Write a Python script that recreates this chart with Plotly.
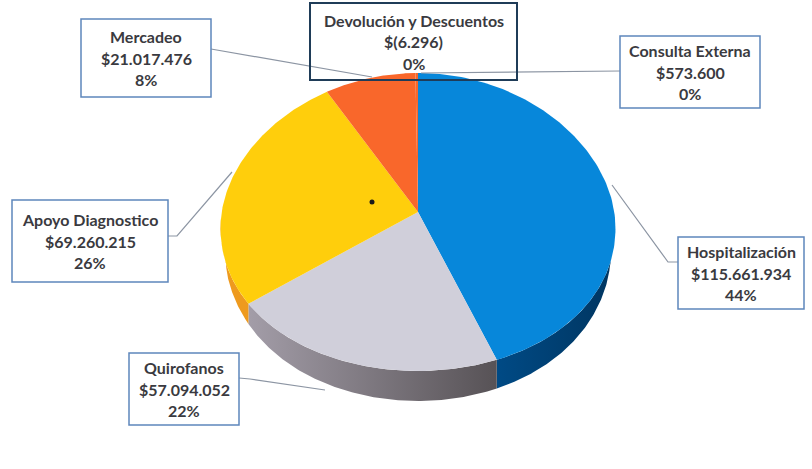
import numpy as np
import plotly.graph_objects as go

categories = ["Hospitalización", "Quirofanos", "Apoyo Diagnostico", "Mercadeo",
              "Devolución y Descuentos", "Consulta Externa"]
values = [115661934, 57094052, 69260215, 21017476, -6296, 573600]
amount_labels = ["$115.661.934", "$57.094.052", "$69.260.215", "$21.017.476", "$(6.296)", "$573.600"]
percent_labels = ["44%", "22%", "26%", "8%", "0%", "0%"]
top_colors = ["#0787DA", "#D0CFDA", "#FFCE0C", "#F9672B", "#F9672B", "#F9672B"]
side_left = ["#004A85", "#A39DA8", "#EE9A1E", "#C04A18", "#999999", "#2F5F90"]
side_right = ["#003560", "#575256", "#EE9A1E", "#C04A18", "#999999", "#2F5F90"]

# geometry of the tilted disc, in pixel-like axis units
CX, CY, RX, RY_BACK, RY_FRONT, DEPTH = 418, 218, 197, 145, 153, 30
PERSPECTIVE = 0.07
APEX = (418, 212)

boxes = {
    "Hospitalización": (678, 237, 804, 309),
    "Quirofanos": (129, 353, 239, 425),
    "Apoyo Diagnostico": (12, 200, 168, 282),
    "Mercadeo": (81, 19, 211, 97),
    "Devolución y Descuentos": (310, 3, 517, 80),
    "Consulta Externa": (620, 36, 760, 108),
}
leaders = {
    "Hospitalización": ([678, 668, 612], [262, 262, 185]),
    "Quirofanos": ([239, 250, 325], [378, 379, 390]),
    "Apoyo Diagnostico": ([168, 177, 232], [236, 236, 172]),
    "Mercadeo": ([211, 372], [49, 77]),
    "Consulta Externa": ([620, 421], [71, 73]),
}

fig = go.Figure()
weights = np.abs(np.array(values, dtype=float))
edges = np.concatenate([[0], np.cumsum(weights) / weights.sum() * 2 * np.pi])


def rim(a, b, n=140):
    t = np.linspace(a, b, n)
    c = np.cos(t)
    x = CX + RX * np.sin(t) * (1 - PERSPECTIVE * c)
    y = CY - np.where(c > 0, RY_BACK, RY_FRONT) * c
    depth = DEPTH * np.clip((-c - 0.3) / 0.7, 0, 1) ** 0.4
    return x, y, depth


# side walls (only the front half of the disc shows)
for i, name in enumerate(categories):
    a, b = max(edges[i], np.pi / 2), min(edges[i + 1], 3 * np.pi / 2)
    if b <= a:
        continue
    x, y, d = rim(a, b)
    fig.add_trace(go.Scatter(
        x=np.concatenate([x, x[::-1]]), y=np.concatenate([y, (y + d)[::-1]]),
        fill="toself", mode="lines", line=dict(width=0),
        fillgradient=dict(type="horizontal",
                          colorscale=[[0, side_left[i]], [1, side_right[i]]]),
        hoverinfo="skip", showlegend=False))

# top faces
for i, name in enumerate(categories):
    x, y, _ = rim(edges[i], edges[i + 1])
    fig.add_trace(go.Scatter(
        x=np.concatenate([[APEX[0]], x, [APEX[0]]]), y=np.concatenate([[APEX[1]], y, [APEX[1]]]),
        fill="toself", fillcolor=top_colors[i], mode="lines", line=dict(width=0),
        name=name, text=f"{name}<br>{amount_labels[i]}<br>{percent_labels[i]}",
        hoverinfo="text", showlegend=False))

# leader lines
for name, (lx, ly) in leaders.items():
    fig.add_trace(go.Scatter(x=lx, y=ly, mode="lines", line=dict(color="#8C95A3", width=1.2),
                             hoverinfo="skip", showlegend=False))

# small speck on the scan
fig.add_trace(go.Scatter(x=[372], y=[202], mode="markers", marker=dict(color="#1a1a1a", size=5),
                         hoverinfo="skip", showlegend=False))

# callouts
for i, name in enumerate(categories):
    x0, y0, x1, y1 = boxes[name]
    strong = name.startswith("Devol")
    fig.add_shape(type="rect", x0=x0, y0=y0, x1=x1, y1=y1, layer="above",
                  line=dict(color="#1F3C58" if strong else "#5E86BC", width=2 if strong else 1.5),
                  fillcolor="rgba(255,255,255,0)")
    xc, yc = (x0 + x1) / 2, (y0 + y1) / 2
    for k, line in enumerate([name, amount_labels[i], percent_labels[i]]):
        fig.add_annotation(x=xc, y=yc + (k - 1) * 21.5, text=f"<b>{line}</b>", showarrow=False,
                           xanchor="center", yanchor="middle",
                           font=dict(family="Lato, Carlito, sans-serif", size=16, color="#3A3A40"))

fig.update_layout(
    width=812, height=469, margin=dict(l=0, r=0, t=0, b=0),
    paper_bgcolor="white", plot_bgcolor="white", showlegend=False,
    xaxis=dict(range=[0, 812], visible=False, fixedrange=True),
    yaxis=dict(range=[469, 0], visible=False, fixedrange=True),
)
fig.write_html("out.html", config={"displayModeBar": False},
               post_script="document.body.style.margin='0';")
